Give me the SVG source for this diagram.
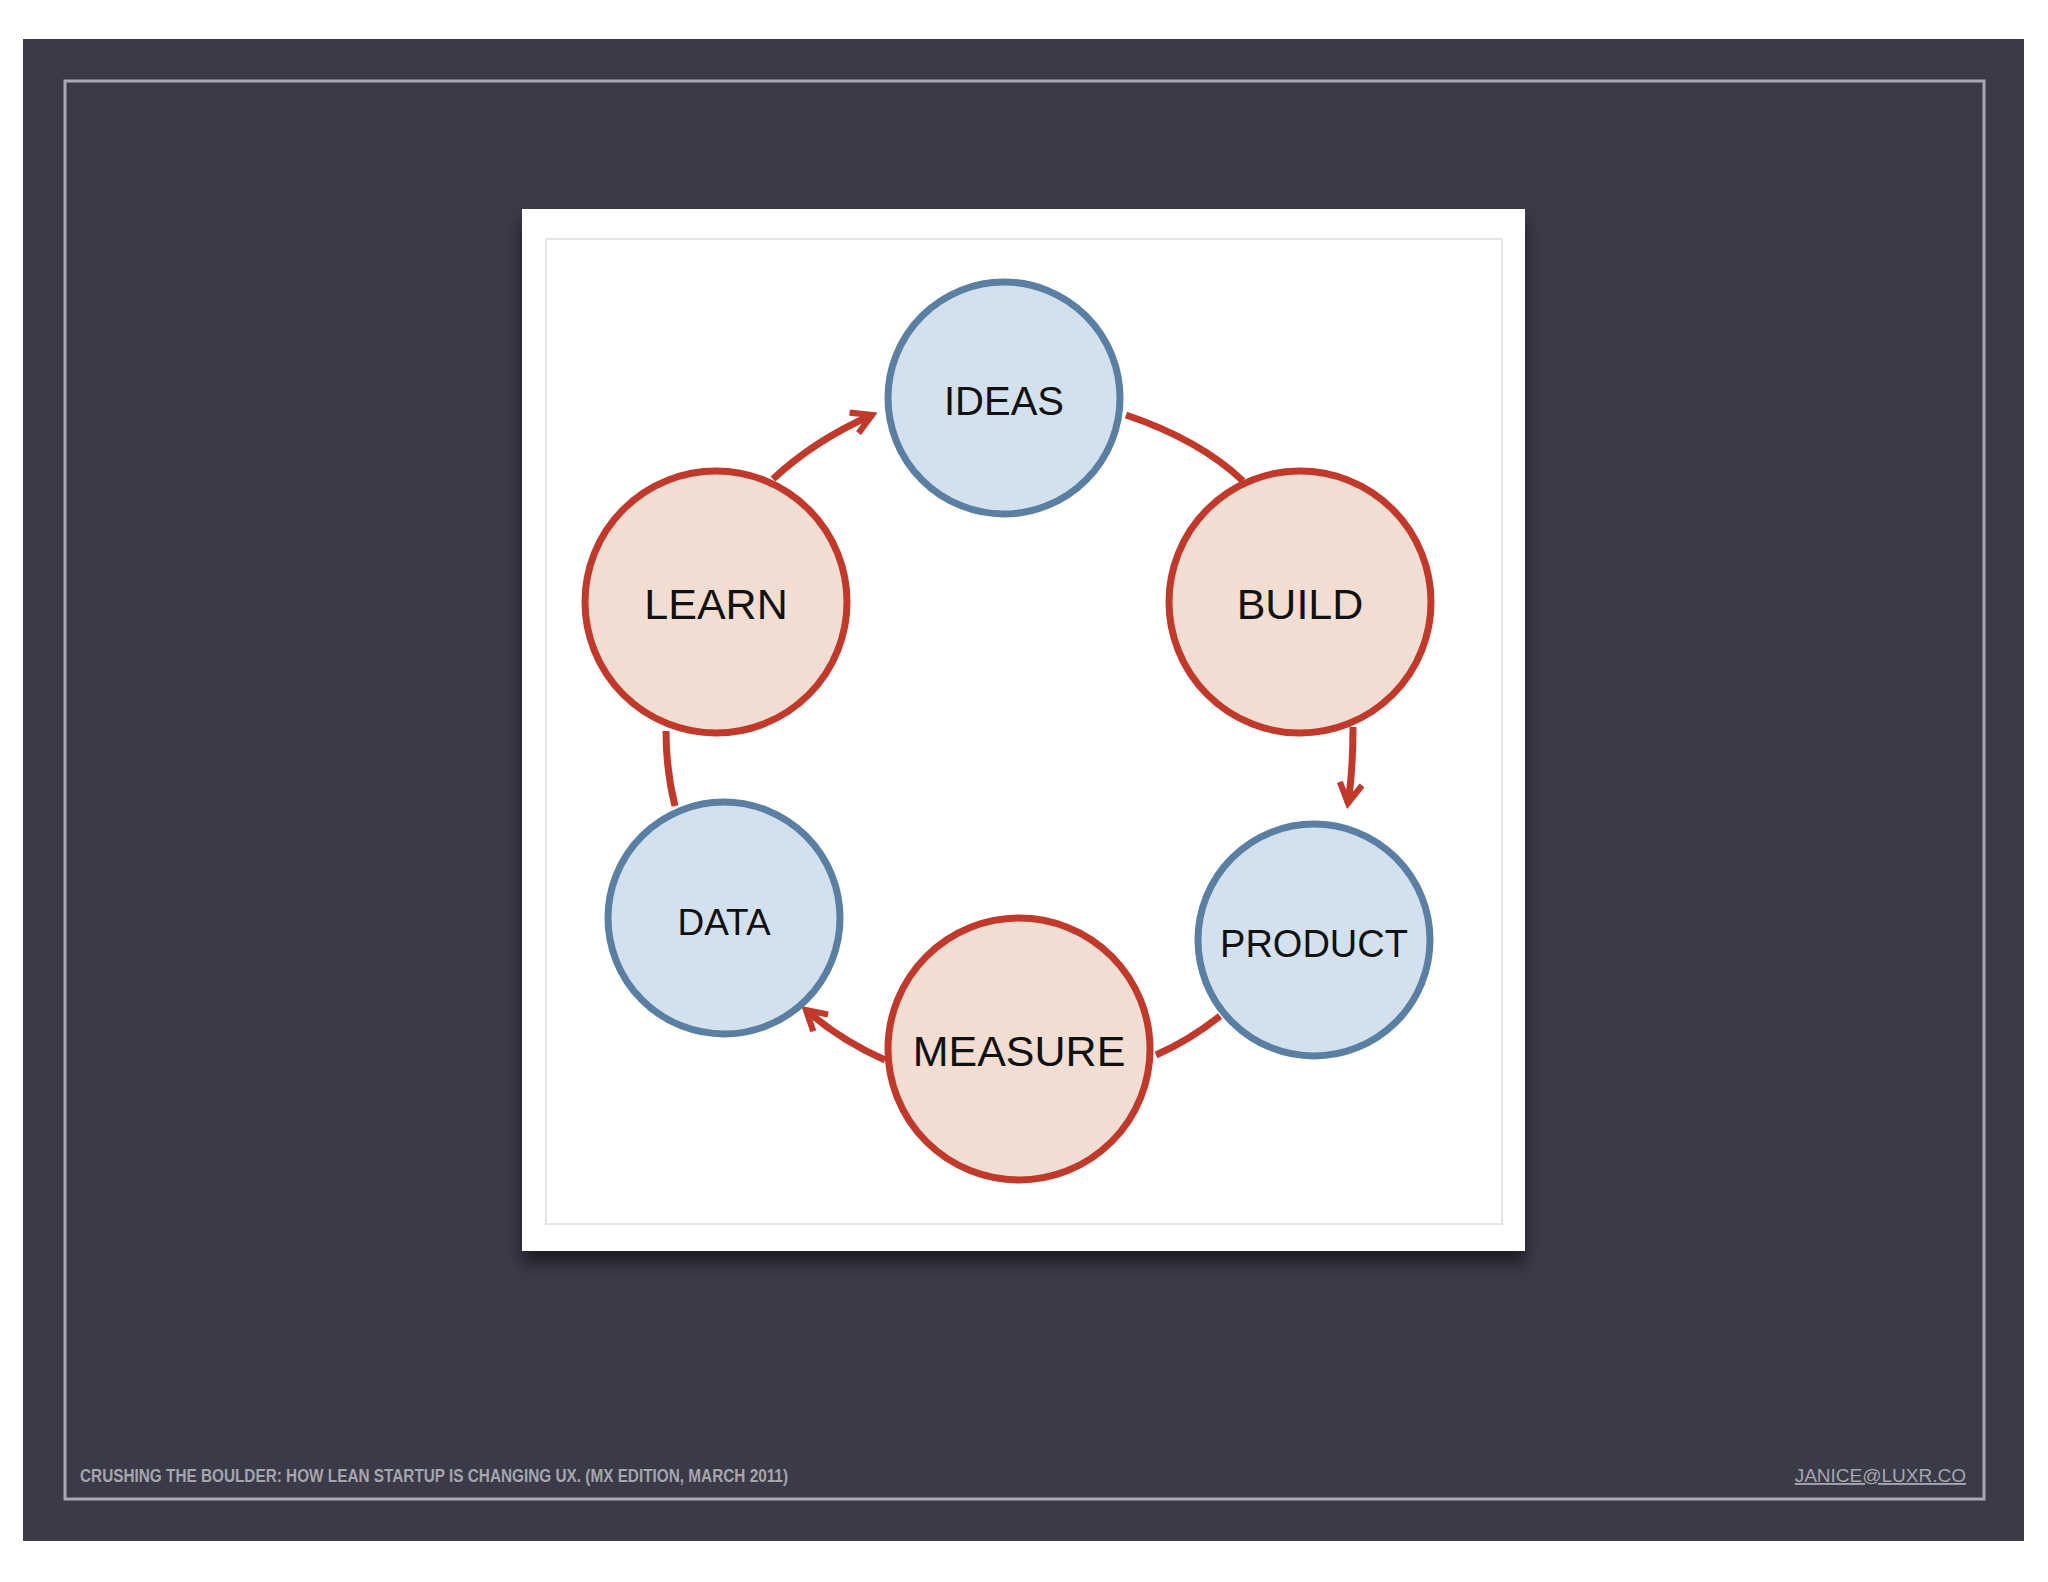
<svg xmlns="http://www.w3.org/2000/svg" width="2048" height="1582" viewBox="0 0 2048 1582">
<defs>
<style>
.red{fill:#f1ddd2;stroke:#c0392b;stroke-width:7}
.blue{fill:#d3e1ee;stroke:#5b7fa3;stroke-width:7}
.lbl{font-family:"Liberation Sans",Arial,sans-serif;font-size:40px;fill:#111;text-anchor:middle;dominant-baseline:central}
.con{fill:none;stroke:#c0392b;stroke-width:7}
</style>
<marker id="ah" viewBox="0 0 10 10" refX="8" refY="5" markerWidth="4" markerHeight="4" orient="auto" markerUnits="strokeWidth">
<path d="M1,1 L8,5 L1,9" fill="none" stroke="#c0392b" stroke-width="2.2"/>
</marker>
<filter id="sh" x="-10%" y="-10%" width="120%" height="130%"><feDropShadow dx="0" dy="12" stdDeviation="8" flood-color="#000" flood-opacity="0.5"/></filter>
</defs>
<rect width="2048" height="1582" fill="#fff"/>
<rect x="23" y="39" width="2001" height="1502" fill="#3a3a48"/>
<rect x="65" y="81" width="1919" height="1418" fill="none" stroke="#a9a9b3" stroke-width="3"/>
<rect x="522" y="209" width="1003" height="1042" fill="#fff" filter="url(#sh)"/>
<rect x="546" y="239" width="956" height="985" fill="none" stroke="#e6e6e6" stroke-width="2"/>
<g id="connectors">
<path class="con" d="M773,479 Q815,440 872,415" marker-end="url(#ah)"/>
<path class="con" d="M1126,415 Q1200,440 1243,481"/>
<path class="con" d="M1353,727 Q1353,770 1348,803" marker-end="url(#ah)"/>
<path class="con" d="M1220,1016 Q1190,1040 1156,1055"/>
<path class="con" d="M885,1060 Q840,1040 806,1010" marker-end="url(#ah)"/>
<path class="con" d="M675,806 Q666,770 666,731"/>
</g>
<g id="ideas"><circle class="blue" cx="1004" cy="398" r="116"/><text class="lbl" x="1004" y="401" font-size="37">IDEAS</text></g>
<g id="learn"><circle class="red" cx="716" cy="602" r="131"/><text class="lbl" x="716" y="604" style="font-size:43px">LEARN</text></g>
<g id="build"><circle class="red" cx="1300" cy="602" r="131"/><text class="lbl" x="1300" y="604" style="font-size:43px">BUILD</text></g>
<g id="data"><circle class="blue" cx="724" cy="918" r="116"/><text class="lbl" x="724" y="922" style="font-size:37px">DATA</text></g>
<g id="product"><circle class="blue" cx="1314" cy="940" r="116"/><text class="lbl" x="1314" y="944" style="font-size:38px">PRODUCT</text></g>
<g id="measure"><circle class="red" cx="1019" cy="1049" r="131"/><text class="lbl" x="1019" y="1051" style="font-size:43px">MEASURE</text></g>
<text x="80" y="1482" font-family="Liberation Sans Narrow,Liberation Sans,sans-serif" font-weight="bold" font-size="18" fill="#a5a5ad" textLength="708" lengthAdjust="spacingAndGlyphs">CRUSHING THE BOULDER: HOW LEAN STARTUP IS CHANGING UX. (MX EDITION, MARCH 2011)</text>
<text x="1966" y="1482" font-family="Liberation Sans,sans-serif" font-size="19" fill="#a5a5ad" text-anchor="end" text-decoration="underline">JANICE@LUXR.CO</text>
</svg>
